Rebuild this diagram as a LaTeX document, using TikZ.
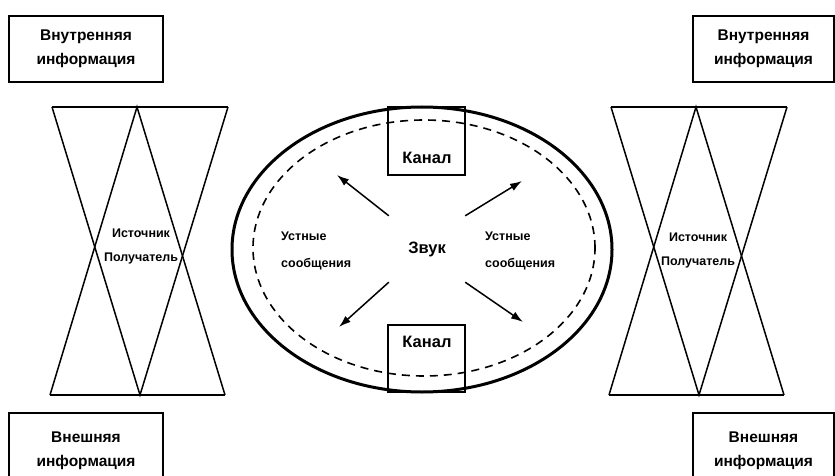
\documentclass[tikz,border=0pt]{standalone}
\usepackage{fontspec}
\setmainfont{Liberation Sans}
\usetikzlibrary{shapes.geometric,arrows.meta}

\begin{document}
\begin{tikzpicture}[
        x=1pt, y=-1pt,
        every node/.style={font=\bfseries, align=center, inner sep=0pt},
        infon/.style={draw, line width=1.9pt, minimum height=66pt,
            font=\bfseries\fontsize{15.5}{24}\selectfont},
        kanaln/.style={draw, line width=1.6pt, minimum width=77pt, minimum height=68pt},
        bign/.style={font=\bfseries\fontsize{16.5}{20}\selectfont},
        smalln/.style={font=\bfseries\fontsize{12.5}{27}\selectfont, align=left, anchor=west},
        hgn/.style={font=\bfseries\fontsize{12.5}{24}\selectfont},
        hg/.style={line width=1.5pt, line join=miter},
        ray/.style={line width=1.5pt, -{Latex[length=12pt, width=8pt]}},
    ]
    \clip (0,0) rectangle (835,476);

    \node[infon, minimum width=154pt] (inl) at (86,49) {Внутренняя\\информация};
    \node[infon, minimum width=141pt] (inr) at (763.5,49) {Внутренняя\\информация};
    \node[infon, minimum width=154pt, minimum height=76pt] (exl) at (86,451) {Внешняя\\информация};
    \node[infon, minimum width=141pt, minimum height=76pt] (exr) at (763.5,451) {Внешняя\\информация};

    \foreach \x/\n in {52/l,611/r}{
        \coordinate (tl\n) at (\x,107);
        \coordinate (tm\n) at (\x+85,107);
        \coordinate (tr\n) at (\x+176,107);
        \coordinate (bl\n) at (\x-2,395);
        \coordinate (bm\n) at (\x+88,395);
        \coordinate (br\n) at (\x+173,395);
        \draw[hg] (tl\n) -- (tr\n) (bl\n) -- (br\n);
        \draw[hg] (tl\n) -- (bm\n) -- (tr\n);
        \draw[hg] (bl\n) -- (tm\n) -- (br\n);
    }
    \node[hgn] (srcl) at (141,246) {Источник\\Получатель};
    \node[hgn] (srcr) at (698,250) {Источник\\Получатель};

    \node[draw, ellipse, line width=3pt, minimum width=380pt, minimum height=285pt] (oval) at (422,249.5) {};
    \node[draw, ellipse, line width=1.6pt, dash pattern=on 8pt off 6pt,
        minimum width=342pt, minimum height=256pt] (inner) at (424,248) {};

    \node[kanaln] (ch1) at (426.5,141) {};
    \node[bign] (ch1t) at (427,158) {Канал};
    \node[kanaln, minimum height=67pt] (ch2) at (426.5,358.5) {};
    \node[bign] (ch2t) at (427,342) {Канал};

    \node[bign, minimum width=76pt, minimum height=66pt] (zvuk) at (427,249) {Звук};
    \coordinate (e1) at (337,175);
    \coordinate (e2) at (522,181);
    \coordinate (e3) at (339,327);
    \coordinate (e4) at (523,322);
    \draw[ray] (zvuk.north west) -- (e1);
    \draw[ray] (zvuk.north east) -- (e2);
    \draw[ray] (zvuk.south west) -- (e3);
    \draw[ray] (zvuk.south east) -- (e4);

    \node[smalln] (ml) at (281,251) {Устные\\сообщения};
    \node[smalln] (mr) at (485,251) {Устные\\сообщения};
\end{tikzpicture}
\end{document}
